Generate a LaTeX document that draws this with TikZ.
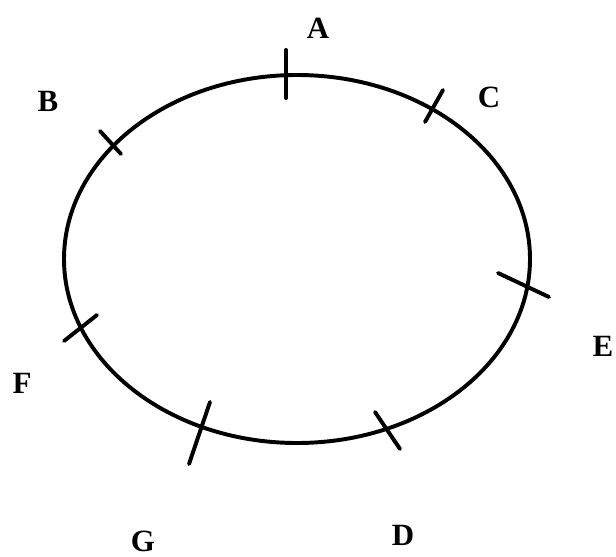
\documentclass[tikz,border=0pt]{standalone}
\usepackage{fontspec}
\setmainfont{Liberation Serif}
\usetikzlibrary{calc}

\begin{document}
\begin{tikzpicture}[x=0.025cm, y=-0.025cm,
    lbl/.style={font=\bfseries\fontsize{22}{26}\selectfont, inner sep=0pt},
    tick/.style={line width=2.8pt, line cap=round}]
            \useasboundingbox (0,0) rectangle (616,557);
            \def\cx{297}    % centre of the track
            \def\cy{259}
            \def\rx{233}
            \def\ry{184}
            % Draw the circular track
            \draw[line width=2.8pt] (\cx,\cy) ellipse [x radius=\rx, y radius=\ry];
            % Draw the marks on the track
            \foreach \p/\xa/\ya/\xb/\yb in {A/286/50/286/98, B/100/131/121/154, C/443/90/425/122,
                                            E/498/273/549/297, F/64/341/97/315, G/210/402/189/464,
                                            D/375/412/400/449} {
                \coordinate (m\p1) at (\xa,\ya);
                \coordinate (m\p2) at (\xb,\yb);
                \draw[tick] (m\p1) -- (m\p2);
            };
            % Names of the positions
            \node[lbl] (A) at (318,28) {A};
            \node[lbl] (B) at (48,101) {B};
            \node[lbl] (C) at (489,97) {C};
            \node[lbl] (E) at (603,346) {E};
            \node[lbl] (F) at (22,383) {F};
            \node[lbl] (G) at (143,541) {G};
            \node[lbl] (D) at (403,535) {D};
        \end{tikzpicture}
\end{document}
